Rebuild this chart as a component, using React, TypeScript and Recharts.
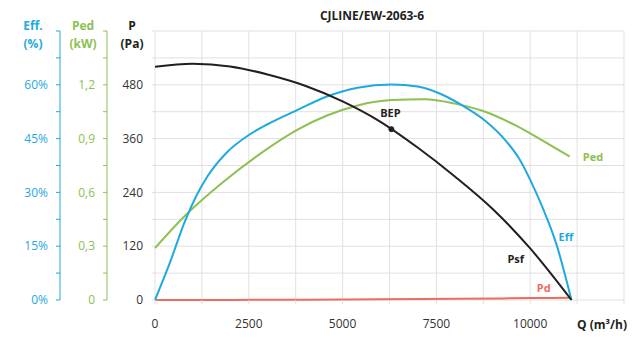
import React from 'react';
import {
  LineChart,
  Line,
  XAxis,
  YAxis,
  CartesianGrid,
  ReferenceDot,
} from 'recharts';

const BLUE = '#1fa9e1';
const GREEN = '#8cc152';
const BLACK = '#231f20';
const RED = '#ef6b5f';
const GRID = '#e4dfdf';
const FONT = '"Open Sans", "Noto Sans", sans-serif';

// axis ids: recharts stacks left axes by id, lowest id next to the plot
const P_AXIS = 0;
const PED_AXIS = 1;
const EFF_AXIS = 2;

// flow Q (m³/h) and static pressure Psf (Pa)
const psfQ = [0, 1000, 2000, 3000, 4000, 5000, 6000, 7000, 8000, 9000, 10000, 11100];
const psfP = [520, 527, 521, 503, 478, 443, 398, 340, 275, 203, 115, 0];

// efficiency (%)
const effQ = [0, 400, 800, 1100, 1400, 1900, 2500, 3000, 3800, 4600, 5400, 6300, 7000, 7600, 8200, 8800, 9300, 9700, 10000, 10300, 10700, 11100];
const effV = [0, 10.5, 22, 29, 34.5, 41, 46, 49, 53, 56.8, 59.2, 60.1, 59.5, 57.5, 54.2, 50, 45, 39.5, 33.5, 26.5, 15.5, 0];

// electrical power Ped (kW)
const pedQ = [0, 800, 1800, 2800, 3800, 4600, 5400, 6300, 7200, 8000, 8800, 9600, 10400, 11050];
const pedV = [0.29, 0.47, 0.655, 0.815, 0.95, 1.03, 1.085, 1.115, 1.12, 1.095, 1.05, 0.975, 0.88, 0.8];

// dynamic pressure Pd (Pa)
const pdQ = [0, 2000, 4000, 6000, 8000, 10000, 11100];
const pdP = [0, 0.2, 0.7, 1.5, 2.7, 4.2, 5.2];

const xTicks = [0, 1250, 2500, 3750, 5000, 6250, 7500, 8750, 10000, 11250, 12500];
const pTicks = [0, 60, 120, 180, 240, 300, 360, 420, 480, 540, 600];
const effTicks = [0, 7.5, 15, 22.5, 30, 37.5, 45, 52.5, 60, 67.5, 75];
const pedTicks = [0, 0.15, 0.3, 0.45, 0.6, 0.75, 0.9, 1.05, 1.2, 1.35, 1.5];

const psfData = psfQ.map((q, i) => ({ q, v: psfP[i] }));
const effData = effQ.map((q, i) => ({ q, v: effV[i] }));
const pedData = pedQ.map((q, i) => ({ q, v: pedV[i] }));
const pdData = pdQ.map((q, i) => ({ q, v: pdP[i] }));

const labelStyle = { fontFamily: FONT, fontSize: 11, fontWeight: 700 };

const Header = ({ x, y, color, text }: { x: number; y: number; color: string; text: string }) => (
  <div
    style={{
      position: 'absolute',
      left: x,
      top: y,
      transform: 'translate(-50%, -50%)',
      color,
      fontFamily: FONT,
      fontSize: 12,
      fontWeight: 700,
      whiteSpace: 'nowrap',
    }}
  >
    {text}
  </div>
);

export default function App() {
  return (
    <div style={{ position: 'absolute', left: 0, top: 0, width: 638, height: 340, background: '#fff' }}>
      <LineChart
        width={638}
        height={340}
        margin={{ top: 31, right: 14, bottom: 10, left: 10 }}
      >
        <CartesianGrid stroke={GRID} yAxisId={P_AXIS} />
        <XAxis
          dataKey="q"
          type="number"
          domain={[0, 12500]}
          ticks={xTicks}
          interval={0}
          tickFormatter={(v: number) => (v % 2500 === 0 && v <= 10000 ? String(v) : '')}
          axisLine={false}
          tickLine={{ stroke: GRID }}
          tickSize={4}
          tickMargin={15}
          tick={{ fill: '#333', fontSize: 12, fontFamily: FONT }}
          height={30}
        />
        <YAxis
          yAxisId={P_AXIS}
          domain={[0, 600]}
          ticks={pTicks}
          interval={0}
          tickFormatter={(v: number) => (v % 120 === 0 && v < 600 ? String(v) : '')}
          axisLine={false}
          tickLine={{ stroke: GRID }}
          tickSize={3}
          tickMargin={9}
          width={48}
          tick={{ fill: '#333', fontSize: 12, fontFamily: FONT }}
        />
        <YAxis
          yAxisId={PED_AXIS}
          domain={[0, 1.5]}
          ticks={pedTicks}
          interval={0}
          tickFormatter={(v: number) =>
            Math.abs(v / 0.3 - Math.round(v / 0.3)) < 1e-6 && v < 1.5
              ? v === 0
                ? '0'
                : v.toFixed(1).replace('.', ',')
              : ''
          }
          axisLine={{ stroke: GREEN }}
          tickLine={{ stroke: GREEN }}
          tickSize={4}
          tickMargin={8}
          width={47}
          tick={{ fill: GREEN, fontSize: 12, fontFamily: FONT }}
        />
        <YAxis
          yAxisId={EFF_AXIS}
          domain={[0, 75]}
          ticks={effTicks}
          interval={0}
          tickFormatter={(v: number) => (v % 15 === 0 && v < 75 ? `${v}%` : '')}
          axisLine={{ stroke: BLUE }}
          tickLine={{ stroke: BLUE }}
          tickSize={4}
          tickMargin={8}
          width={50}
          tick={{ fill: BLUE, fontSize: 12, fontFamily: FONT }}
        />
        <Line
          yAxisId={P_AXIS}
          data={pdData}
          dataKey="v"
          type="monotone"
          stroke={RED}
          strokeWidth={2}
          dot={false}
          isAnimationActive={false}
        />
        <Line
          yAxisId={PED_AXIS}
          data={pedData}
          dataKey="v"
          type="monotone"
          stroke={GREEN}
          strokeWidth={2}
          dot={false}
          isAnimationActive={false}
        />
        <Line
          yAxisId={EFF_AXIS}
          data={effData}
          dataKey="v"
          type="monotone"
          stroke={BLUE}
          strokeWidth={2}
          dot={false}
          isAnimationActive={false}
        />
        <Line
          yAxisId={P_AXIS}
          data={psfData}
          dataKey="v"
          type="monotone"
          stroke={BLACK}
          strokeWidth={2}
          dot={false}
          isAnimationActive={false}
        />
        <ReferenceDot yAxisId={P_AXIS} x={6300} y={381} r={2.5} fill={BLACK} stroke={BLACK} />
        <ReferenceDot yAxisId={P_AXIS} x={6275} y={417} r={0} label={{ value: 'BEP', position: 'center', fill: BLACK, ...labelStyle }} />
        <ReferenceDot yAxisId={P_AXIS} x={11400} y={319} r={0} label={{ value: 'Ped', position: 'right', offset: 0, fill: GREEN, ...labelStyle }} />
        <ReferenceDot yAxisId={P_AXIS} x={10950} y={140} r={0} label={{ value: 'Eff', position: 'center', fill: BLUE, ...labelStyle }} />
        <ReferenceDot yAxisId={P_AXIS} x={9615} y={91} r={0} label={{ value: 'Psf', position: 'center', fill: BLACK, ...labelStyle }} />
        <ReferenceDot yAxisId={P_AXIS} x={10360} y={27} r={0} label={{ value: 'Pd', position: 'center', fill: RED, ...labelStyle }} />
      </LineChart>

      <Header x={372} y={15} color={BLACK} text="CJLINE/EW-2063-6" />
      <Header x={33} y={25} color={BLUE} text="Eff." />
      <Header x={33} y={43} color={BLUE} text="(%)" />
      <Header x={83} y={25} color={GREEN} text="Ped" />
      <Header x={83} y={43} color={GREEN} text="(kW)" />
      <Header x={132} y={25} color={BLACK} text="P" />
      <Header x={132} y={43} color={BLACK} text="(Pa)" />
      <Header x={602} y={324} color={BLACK} text="Q (m³/h)" />
    </div>
  );
}
